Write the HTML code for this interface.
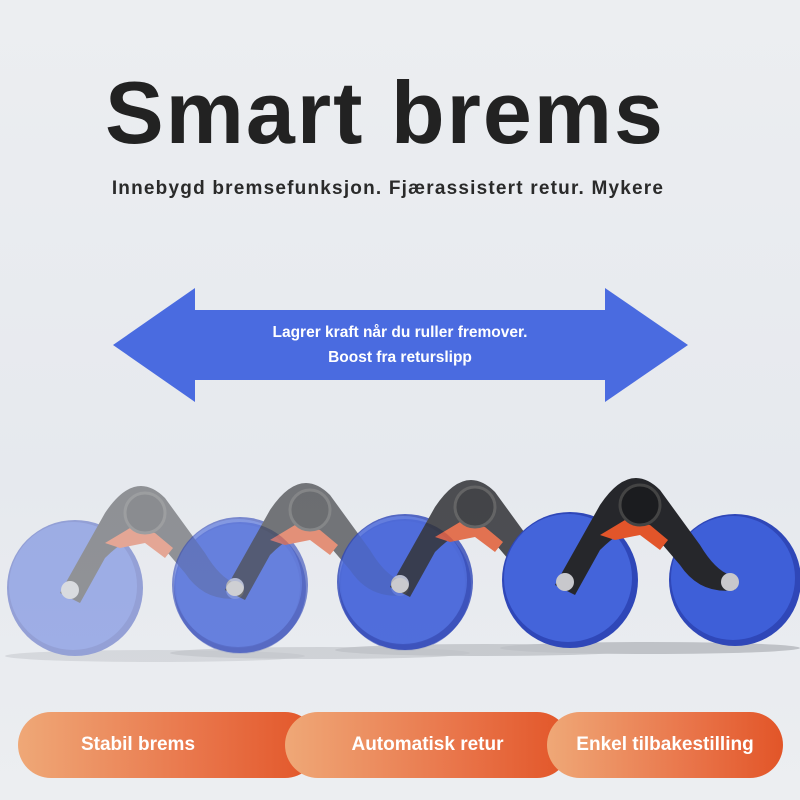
<!DOCTYPE html>
<html><head><meta charset="utf-8"><style>
body{margin:0;width:800px;height:800px;overflow:hidden;background:#e9ecf0;font-family:"Liberation Sans",sans-serif;}
.wrap{position:relative;width:800px;height:800px;background:linear-gradient(#eceef1,#e6e9ee 60%,#eceef1);}
h1{position:absolute;top:62px;left:-15px;width:800px;text-align:center;margin:0;font-size:88px;font-weight:bold;color:#222;letter-spacing:2px;transform:scaleX(1.0);}
.sub{position:absolute;top:178px;left:-12px;width:800px;text-align:center;font-size:19px;font-weight:bold;color:#2a2a2a;letter-spacing:1.2px;}
.pill{position:absolute;top:712px;height:66px;border-radius:33px;color:#fff;font-weight:bold;font-size:19px;display:flex;align-items:center;justify-content:center;background:linear-gradient(90deg,#efa877,#e9754a 60%,#e25528);}
</style></head><body><div class="wrap">
<h1>Smart brems</h1>
<div class="sub">Innebygd bremsefunksjon. Fjærassistert retur. Mykere</div>
<svg width="800" height="800" style="position:absolute;left:0;top:0">
<defs>
<g id="p">
<ellipse cx="650" cy="648" rx="150" ry="6" fill="#bfc2c7"/>
<circle cx="735" cy="580" r="66" fill="#2f47b8"/>
<circle cx="733" cy="578" r="62" fill="#3e5fd8"/>
<circle cx="570" cy="580" r="68" fill="#2f47b8"/>
<circle cx="568" cy="578" r="64" fill="#4464da"/>
<path d="M555 585 L600 505 Q630 460 660 490 L700 545 Q715 570 730 575 L735 590 Q700 595 680 565 L650 530 Q630 520 600 550 L575 595 Z" fill="#26272b"/>
<path d="M600 535 L625 520 L650 525 L668 540 L660 550 L640 535 L615 540 Z" fill="#e2552a"/>
<circle cx="640" cy="505" r="20" fill="#1b1c1f" stroke="#444" stroke-width="3"/>
<circle cx="565" cy="582" r="9" fill="#c8c8cc"/>
<circle cx="730" cy="582" r="9" fill="#c8c8cc"/>
</g>
</defs>
<use href="#p" transform="translate(-495,8)" opacity="0.45"/>
<use href="#p" transform="translate(-330,5)" opacity="0.6"/>
<use href="#p" transform="translate(-165,2)" opacity="0.8"/>
<use href="#p"/>
<path d="M113 345 L195 288 L195 310 L605 310 L605 288 L688 345 L605 402 L605 380 L195 380 L195 402 Z" fill="#4a6be0"/>
<text x="400" y="337" text-anchor="middle" fill="#fff" font-weight="bold" font-size="15.5" font-family="Liberation Sans">Lagrer kraft når du ruller fremover.</text>
<text x="400" y="362" text-anchor="middle" fill="#fff" font-weight="bold" font-size="15.5" font-family="Liberation Sans">Boost fra returslipp</text>
</svg>
<div class="pill" style="left:18px;width:300px;padding-right:60px;box-sizing:border-box">Stabil brems</div>
<div class="pill" style="left:285px;width:285px">Automatisk retur</div>
<div class="pill" style="left:547px;width:236px">Enkel tilbakestilling</div>
</div></body></html>
